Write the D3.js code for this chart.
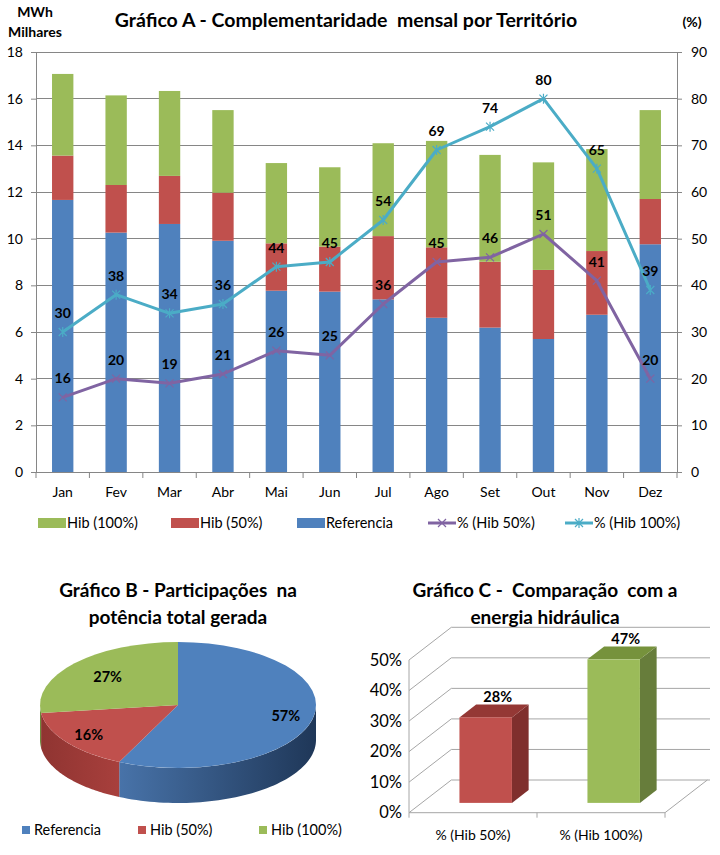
<!DOCTYPE html>
<html><head><meta charset="utf-8">
<script src="https://cdn.jsdelivr.net/npm/d3@7"></script>
<style>body{margin:0;background:#fff} svg{display:block} text{font-family:Lato,'Open Sans',sans-serif;fill:#000}</style>
</head><body><svg id="c" width="720" height="855"></svg>
<script>
// ---------- DATA ----------
const months = ["Jan","Fev","Mar","Abr","Mai","Jun","Jul","Ago","Set","Out","Nov","Dez"];
const referencia = [11.66,10.26,10.63,9.91,7.77,7.73,7.40,6.61,6.19,5.70,6.74,9.76];
const hib50 =      [1.90,2.04,2.06,2.06,2.03,1.93,2.71,3.02,2.82,2.96,2.73,1.94];
const hib100 =     [3.50,3.84,3.64,3.54,3.44,3.40,3.98,4.56,4.58,4.61,4.37,3.81];
const pct50 =  [16,20,19,21,26,25,36,45,46,51,41,20];
const pct100 = [30,38,34,36,44,45,54,69,74,80,65,39];
const leftTicks = [0,2,4,6,8,10,12,14,16,18];
const rightTicks = [0,10,20,30,40,50,60,70,80,90];
const pieCats = ["Referencia","Hib (50%)","Hib (100%)"];
const pieValues = [57,16,27];
const compCats = ["% (Hib 50%)","% (Hib 100%)"];
const compValues = [0.28,0.47];
const compTicks = [0,0.1,0.2,0.3,0.4,0.5];

const C = {blue:"#4f81bd", red:"#c0504d", green:"#9bbb59", purple:"#8064a2", cyan:"#4bacc6", grid:"#868686"};
const FF = "Lato,'Open Sans',sans-serif";
const svg = d3.select("#c");
svg.append("rect").attr("width",720).attr("height",855).attr("fill","#fff");

// ---------- CHART A ----------
const x = d3.scaleBand().domain(months).range([36,677]).paddingInner(0.6).paddingOuter(0.3);
const yL = d3.scaleLinear().domain([0,18]).range([472,52]);
const yR = d3.scaleLinear().domain([0,90]).range([472,52]);
const A = svg.append("g");

A.append("g").selectAll("line").data(leftTicks).join("line")
  .attr("x1",36).attr("x2",677).attr("y1",d=>yL(d)).attr("y2",d=>yL(d))
  .attr("stroke",C.grid).attr("stroke-width",1).attr("shape-rendering","crispEdges");

const rows = months.map((m,i)=>({m, ref:referencia[i], h50:hib50[i], h100:hib100[i]}));
const stack = d3.stack().keys(["ref","h50","h100"])(rows);
const cols = {ref:C.blue,h50:C.red,h100:C.green};
A.append("g").selectAll("g").data(stack).join("g").attr("fill",d=>cols[d.key])
  .selectAll("rect").data(d=>d).join("rect")
  .attr("x",d=>x(d.data.m)).attr("width",x.bandwidth())
  .attr("y",d=>yL(d[1])).attr("height",d=>yL(d[0])-yL(d[1]));

// axes
const axL = d3.axisLeft(yL).tickValues(leftTicks).tickSize(5).tickPadding(8);
const gL = A.append("g").attr("transform","translate(36,0)").call(axL);
const axR = d3.axisRight(yR).tickValues(rightTicks).tickSize(5).tickPadding(9);
const gR = A.append("g").attr("transform","translate(677,0)").call(axR);
const axB = d3.axisBottom(x).tickSize(0).tickPadding(15);
const gB = A.append("g").attr("transform","translate(0,472)").call(axB);
[gL,gR,gB].forEach(g=>{
  g.select(".domain").attr("stroke",C.grid);
  g.selectAll(".tick line").attr("stroke",C.grid);
  g.selectAll("text").attr("font-size",14).attr("font-family",FF).attr("fill","#000");
});
// bottom ticks at band boundaries
const bounds = months.map(m=>x(m)-x.step()*x.paddingInner()/2).concat([677]);
A.append("g").selectAll("line").data(bounds).join("line")
  .attr("x1",d=>d).attr("x2",d=>d).attr("y1",472).attr("y2",478).attr("stroke",C.grid);

// lines
const cxm = m=>x(m)+x.bandwidth()/2;
function drawMarker(g,px,py,color,marker){
  const s=4;
  g.append("path").attr("d",`M${px-s},${py-s}L${px+s},${py+s}M${px-s},${py+s}L${px+s},${py-s}`+(marker==="star"?`M${px},${py-s-1}L${px},${py+s+1}`:""))
   .attr("stroke",color).attr("stroke-width",1.2).attr("fill","none");
}
function drawLine(vals,color,marker){
  const pts = months.map((m,i)=>[cxm(m),yR(vals[i])]);
  A.append("path").attr("d",d3.line()(pts)).attr("fill","none").attr("stroke",color).attr("stroke-width",3).attr("stroke-linejoin","round");
  pts.forEach(p=>drawMarker(A,p[0],p[1],color,marker));
}
drawLine(pct50,C.purple,"x");
drawLine(pct100,C.cyan,"star");
function labels(vals){
  A.append("g").selectAll("text").data(vals).join("text")
   .attr("x",(d,i)=>cxm(months[i])).attr("y",d=>yR(d)-14)
   .attr("text-anchor","middle").attr("font-size",14).attr("font-weight","bold").text(d=>d);
}
labels(pct50); labels(pct100);

// titles
A.append("text").attr("x",346).attr("y",27).attr("text-anchor","middle").attr("font-size",19.5).attr("font-weight","bold")
 .style("white-space","pre").text("Gráfico A - Complementaridade  mensal por Território");
A.append("text").attr("x",35).attr("y",17).attr("text-anchor","middle").attr("font-size",14).attr("font-weight","bold").text("MWh");
A.append("text").attr("x",35).attr("y",37).attr("text-anchor","middle").attr("font-size",14).attr("font-weight","bold").text("Milhares");
A.append("text").attr("x",692).attr("y",27).attr("text-anchor","middle").attr("font-size",14).attr("font-weight","bold").text("(%)");

// legend A
const legA = [
  {t:"Hib (100%)",c:C.green,type:"rect",x:38},
  {t:"Hib (50%)",c:C.red,type:"rect",x:171},
  {t:"Referencia",c:C.blue,type:"rect",x:297},
  {t:"% (Hib 50%)",c:C.purple,type:"x",x:428},
  {t:"% (Hib 100%)",c:C.cyan,type:"star",x:565}
];
legA.forEach(l=>{
  if(l.type==="rect") A.append("rect").attr("x",l.x).attr("y",518).attr("width",28).attr("height",10).attr("fill",l.c);
  else { A.append("line").attr("x1",l.x).attr("x2",l.x+28).attr("y1",523).attr("y2",523).attr("stroke",l.c).attr("stroke-width",3);
         drawMarker(A,l.x+14,523,l.c,l.type); }
  A.append("text").attr("x",l.x+29).attr("y",528).attr("font-size",14.5).text(l.t);
});

// ---------- CHART B (3D pie) ----------
const B = svg.append("g");
B.append("text").attr("x",178).attr("y",597).attr("text-anchor","middle").attr("font-size",19).attr("font-weight","bold").style("white-space","pre").text("Gráfico B - Participações  na");
B.append("text").attr("x",178).attr("y",624).attr("text-anchor","middle").attr("font-size",19).attr("font-weight","bold").text("potência total gerada");
const pcx=178, pcy=705, rx=138, ry=63, depth=35;
const arcs = d3.pie().sort(null).value(d=>d)(pieValues);
const defs = svg.append("defs");
const sideGrad = [
  ["#4a76ad","#1f3758"],
  ["#a9403d","#8f3431"],
  ["#7f9c47","#6c8a3a"]
];
sideGrad.forEach((g,i)=>{
  const lg = defs.append("linearGradient").attr("id","sg"+i).attr("gradientUnits","userSpaceOnUse")
    .attr("x1",pcx-rx).attr("x2",pcx+rx).attr("y1",0).attr("y2",0);
  if(i===0){lg.append("stop").attr("offset","0.25").attr("stop-color",g[0]);lg.append("stop").attr("offset","1").attr("stop-color",g[1]);}
  else {lg.append("stop").attr("offset","0").attr("stop-color",g[1]);lg.append("stop").attr("offset","0.3").attr("stop-color",g[0]);}
});
const pieCols=[C.blue,C.red,C.green];
arcs.forEach((a,i)=>{
  const b0=Math.max(a.startAngle,Math.PI/2), b1=Math.min(a.endAngle,3*Math.PI/2);
  if(b1<=b0) return;
  const N=60, top=[], bot=[];
  for(let k=0;k<=N;k++){const t=b0+(b1-b0)*k/N; top.push([pcx+rx*Math.sin(t),pcy-ry*Math.cos(t)]);}
  for(let k=N;k>=0;k--){const t=b0+(b1-b0)*k/N; bot.push([pcx+rx*Math.sin(t),pcy-ry*Math.cos(t)+depth]);}
  B.append("path").attr("d",d3.line()(top.concat(bot))+"Z").attr("fill",`url(#sg${i})`);
});
const topG = B.append("g").attr("transform",`translate(${pcx},${pcy}) scale(1,${ry/rx})`);
const arcGen = d3.arc().innerRadius(0).outerRadius(rx);
topG.selectAll("path").data(arcs).join("path").attr("d",arcGen).attr("fill",(d,i)=>pieCols[i]);
arcs.forEach((a,i)=>{
  const m=(a.startAngle+a.endAngle)/2, k=[0.8,0.8,0.68][i];
  B.append("text").attr("x",pcx+rx*k*Math.sin(m)).attr("y",pcy-ry*k*Math.cos(m)+5)
   .attr("text-anchor","middle").attr("font-size",14.5).attr("font-weight","bold").text(pieValues[i]+"%");
});
const legBx=[22,138,259];
pieCats.forEach((c,i)=>{
  B.append("rect").attr("x",legBx[i]).attr("y",826).attr("width",8).attr("height",8).attr("fill",pieCols[i]);
  B.append("text").attr("x",legBx[i]+12).attr("y",835).attr("font-size",14.5).text(c);
});

// ---------- CHART C (3D columns) ----------
const G = svg.append("g");
const yC = d3.scaleLinear().domain([0,0.5]).range([812.7,660]);
const xC = d3.scaleBand().domain(compCats).range([409,665]);
const dX=42.3, dY=-32.7;
const gridC="#a6a6a6";
compTicks.forEach(t=>{
  const y=yC(t);
  G.append("line").attr("x1",409).attr("y1",y).attr("x2",409+dX).attr("y2",y+dY).attr("stroke",gridC);
  G.append("line").attr("x1",409+dX).attr("y1",y+dY).attr("x2",710).attr("y2",y+dY).attr("stroke",gridC);
  G.append("text").attr("x",402).attr("y",y+5.5).attr("text-anchor","end").attr("font-size",16.5).text(d3.format(".0%")(t));
});
G.append("line").attr("x1",409).attr("y1",yC(0)).attr("x2",409).attr("y2",yC(0.5)).attr("stroke",gridC);
G.append("line").attr("x1",409).attr("y1",yC(0)).attr("x2",665).attr("y2",yC(0)).attr("stroke",gridC);
G.append("line").attr("x1",665).attr("y1",yC(0)).attr("x2",665+dX).attr("y2",yC(0)+dY).attr("stroke",gridC);
[409,537,665].forEach(t=>G.append("line").attr("x1",t).attr("x2",t).attr("y1",yC(0)).attr("y2",yC(0)+5).attr("stroke",gridC));
const f0=0.3, f1=0.695, bw=xC.bandwidth()*0.41;
const barCols=[{front:C.red,side:"#7f2f2d",top:"#943835"},{front:C.green,side:"#677d3b",top:"#76923c"}];
compCats.forEach((c,i)=>{
  const cx=xC(c)+xC.bandwidth()/2;
  const x0=cx-bw/2+f0*dX, x1=cx+bw/2+f0*dX;
  const base=yC(0)+f0*dY, top=yC(compValues[i])+f0*dY;
  const ddx=(f1-f0)*dX, ddy=(f1-f0)*dY;
  const col=barCols[i];
  G.append("path").attr("d",`M${x1},${top}L${x1+ddx},${top+ddy}L${x1+ddx},${base+ddy}L${x1},${base}Z`).attr("fill",col.side);
  G.append("path").attr("d",`M${x0},${top}L${x1},${top}L${x1+ddx},${top+ddy}L${x0+ddx},${top+ddy}Z`).attr("fill",col.top);
  G.append("rect").attr("x",x0).attr("y",top).attr("width",x1-x0).attr("height",base-top).attr("fill",col.front);
  G.append("text").attr("x",cx+f0*dX+12).attr("y",top+ddy-2).attr("text-anchor","middle").attr("font-size",14.5).attr("font-weight","bold")
   .text(d3.format(".0%")(compValues[i]));
  G.append("text").attr("x",cx).attr("y",840).attr("text-anchor","middle").attr("font-size",14).text(c);
});
G.append("text").attr("x",545).attr("y",597).attr("text-anchor","middle").attr("font-size",19).attr("font-weight","bold").style("white-space","pre").text("Gráfico C -  Comparação  com a");
G.append("text").attr("x",545).attr("y",624).attr("text-anchor","middle").attr("font-size",19).attr("font-weight","bold").text("energia hidráulica");
</script></body></html>
